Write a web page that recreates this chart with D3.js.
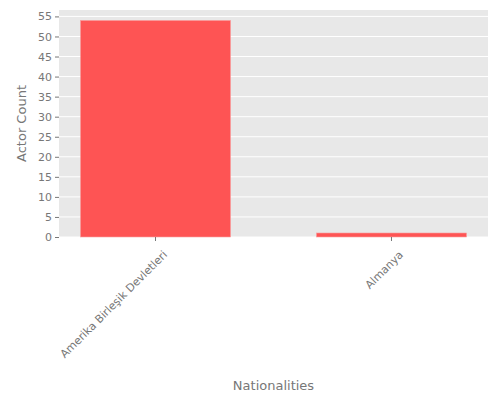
<!DOCTYPE html>
<html><head><meta charset="utf-8">
<script src="https://cdn.jsdelivr.net/npm/d3@7"></script>
<style>body{margin:0;background:#fff}text{font-family:"DejaVu Sans",sans-serif}</style>
</head><body><svg width="500" height="400"></svg>
<script>
const categories = ["Amerika Birleşik Devletleri", "Almanya"];
const counts = [54, 1];
const yTicks = [0,5,10,15,20,25,30,35,40,45,50,55];

const svg = d3.select("svg");
const L=59,R=488,T=10,B=237;
const x = d3.scaleBand().domain(categories).range([L,R]).paddingInner(0.364).paddingOuter(0.091);
const y = d3.scaleLinear().domain([0,56.6]).range([B,T]);

svg.append("rect").attr("x",L).attr("y",T).attr("width",R-L).attr("height",B-T).attr("fill","#e8e8e8");
svg.selectAll(".g").data(yTicks).enter().append("line")
  .attr("x1",L).attr("x2",R).attr("y1",d=>y(d)).attr("y2",d=>y(d)).attr("stroke","#fff").attr("stroke-width",1);

const ya = svg.append("g").attr("transform",`translate(${L},0)`).call(d3.axisLeft(y).tickValues(yTicks).tickSize(4).tickPadding(3));
ya.select(".domain").remove();
ya.selectAll("line").attr("stroke","#777");
ya.selectAll("text").attr("fill","#777").attr("font-size",11);

svg.selectAll(".bar").data(counts).enter().append("rect")
  .attr("x",(d,i)=>x(categories[i])).attr("width",x.bandwidth())
  .attr("y",d=>y(d)).attr("height",d=>B-y(d))
  .attr("fill","#fe5454").attr("stroke","#f8a0a0").attr("stroke-width",0.6);

const xa = svg.append("g").attr("transform",`translate(0,${B})`).call(d3.axisBottom(x).tickSize(4).tickPadding(4));
xa.select(".domain").remove();
xa.selectAll("line").attr("stroke","#777");
xa.selectAll("text").attr("fill","#777").attr("font-size",11)
  .attr("text-anchor","end").attr("dy","0.35em")
  .attr("transform","translate(4,10) rotate(-45)");

svg.append("text").attr("x",(L+R)/2).attr("y",390).attr("text-anchor","middle")
  .attr("fill","#777").attr("font-size",13).text("Nationalities");
svg.append("text").attr("transform",`translate(26,${(T+B)/2}) rotate(-90)`).attr("text-anchor","middle")
  .attr("fill","#777").attr("font-size",13).text("Actor Count");
</script></body></html>
